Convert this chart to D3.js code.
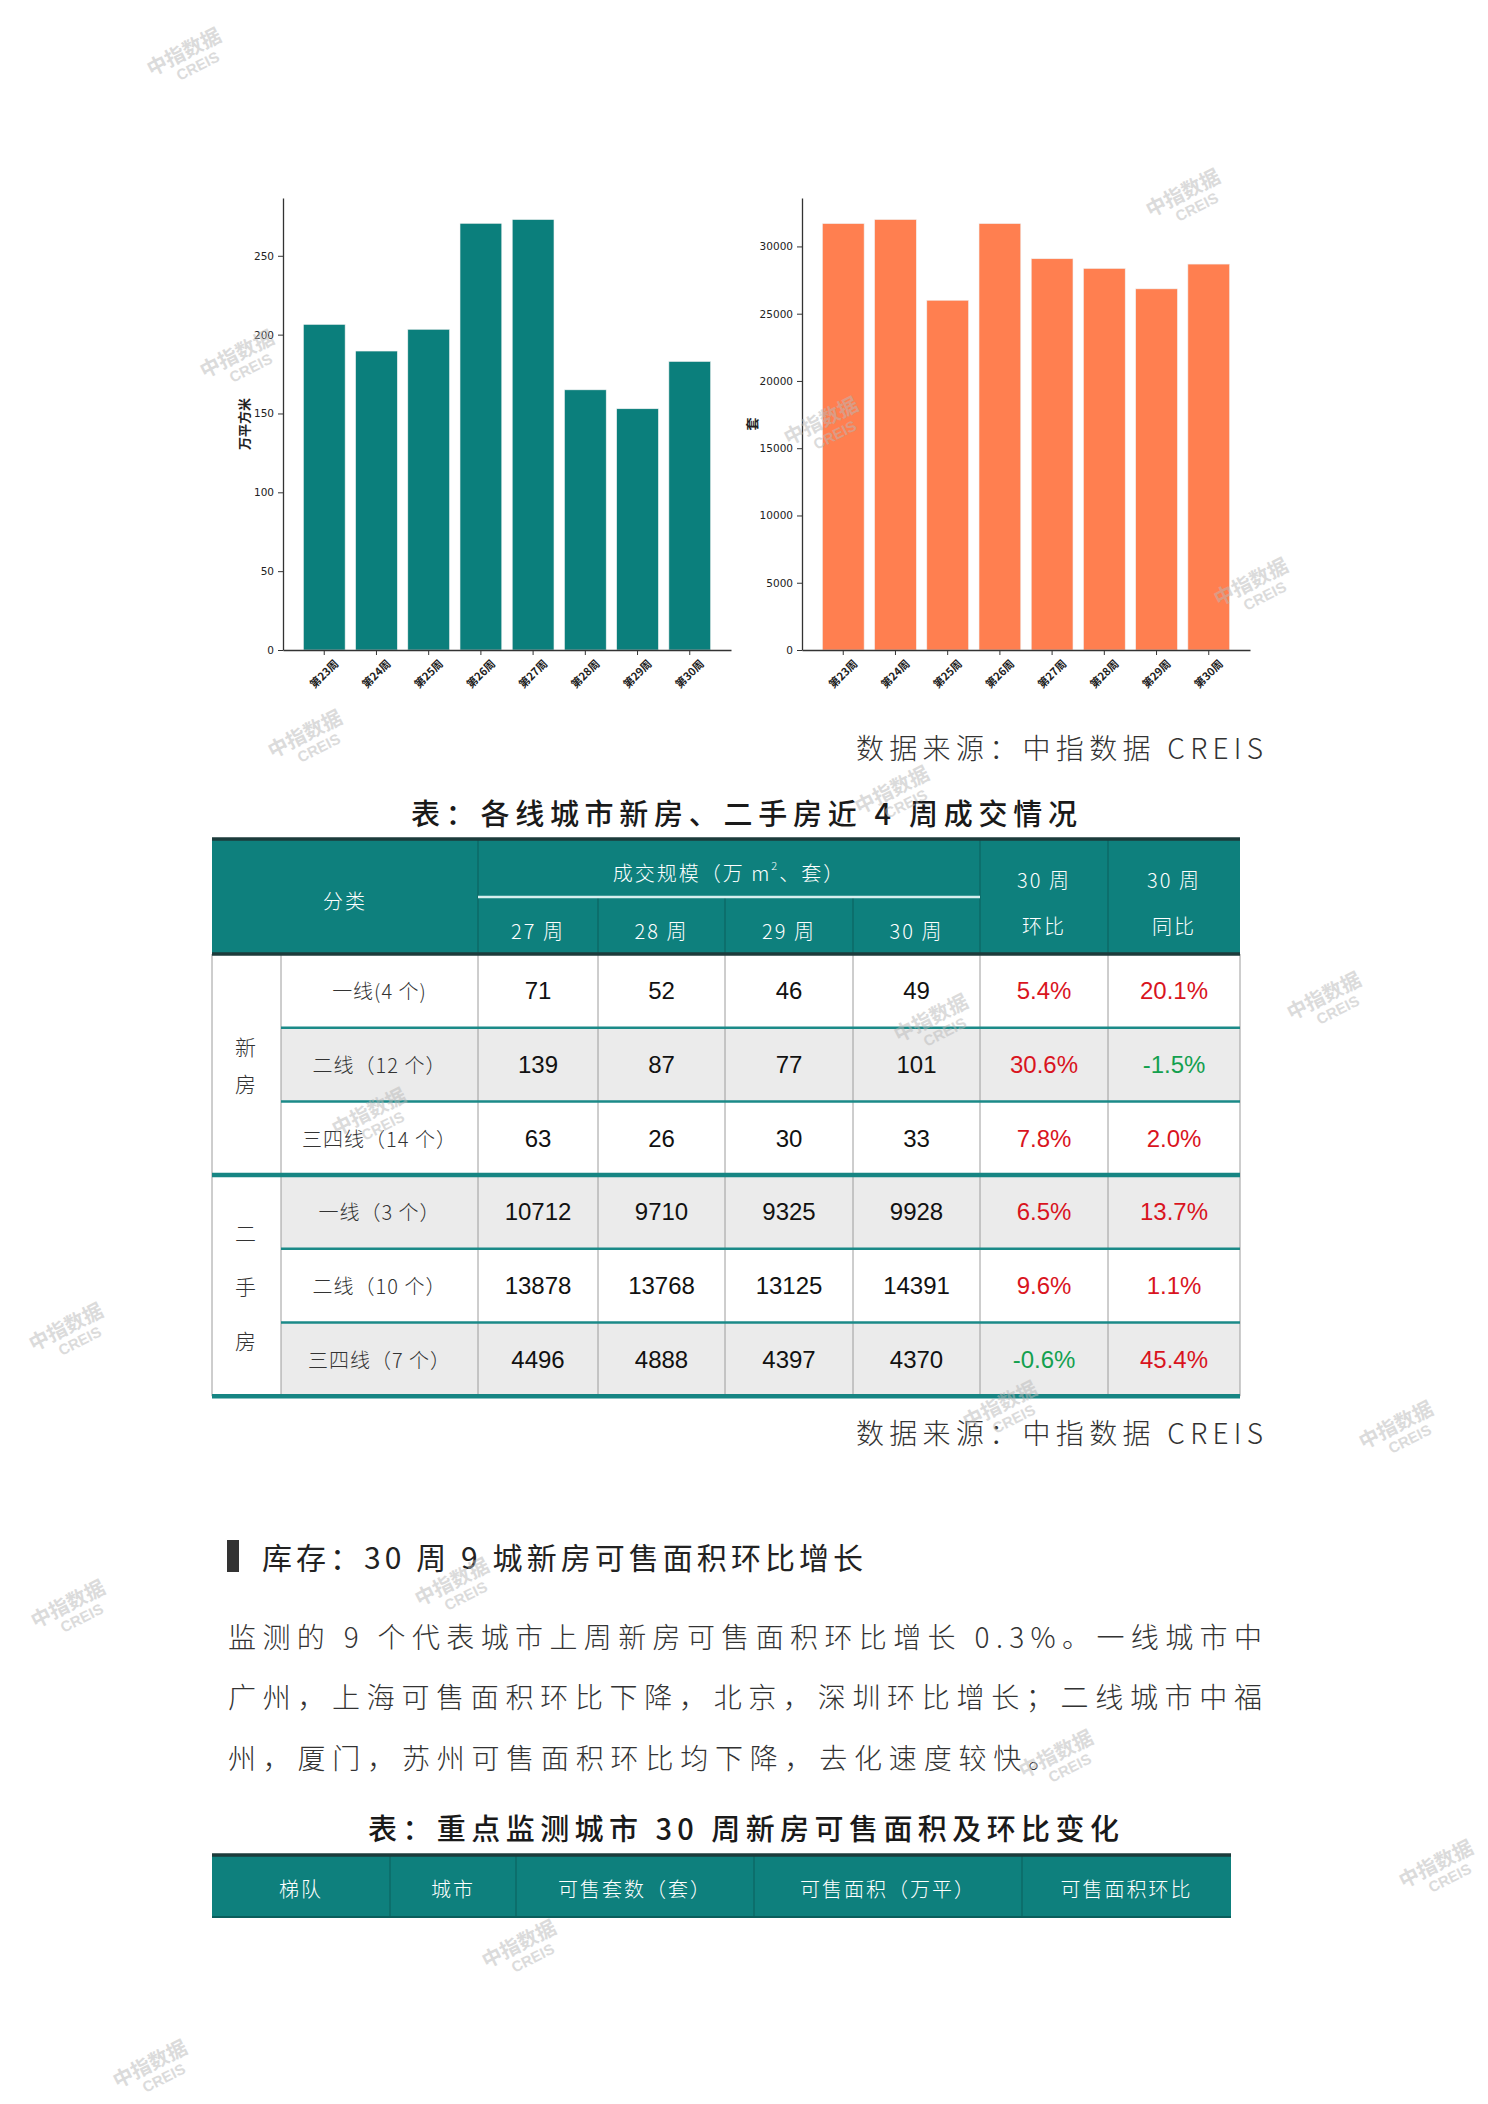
<!DOCTYPE html>
<html><head><meta charset="utf-8">
<script src="https://cdn.jsdelivr.net/npm/d3@7"></script>
<style>body{margin:0;background:#fff;} svg{display:block}</style>
</head><body>
<svg id="page" width="1488" height="2104"></svg>
<script>
// ---------------- DATA ----------------
const weeks = ["第23周","第24周","第25周","第26周","第27周","第28周","第29周","第30周"];
const newHomeArea = [206.5, 189.6, 203.4, 270.6, 273, 165, 153, 183];      // 万平方米
const resaleUnits = [31700, 32000, 26000, 31700, 29086, 28366, 26847, 28689]; // 套
const areaTicks = [0, 50, 100, 150, 200, 250];
const unitTicks = [0, 5000, 10000, 15000, 20000, 25000, 30000];

const tableWeeks = ["27 周", "28 周", "29 周", "30 周"];
const groupNames = ["新房", "二手房"];
const tierLabels = ["一线(4 个)", "二线（12 个）", "三四线（14 个）", "一线（3 个）", "二线（10 个）", "三四线（7 个）"];
const wk27 = [71, 139, 63, 10712, 13878, 4496];
const wk28 = [52, 87, 26, 9710, 13768, 4888];
const wk29 = [46, 77, 30, 9325, 13125, 4397];
const wk30 = [49, 101, 33, 9928, 14391, 4370];
const momChange = ["5.4%", "30.6%", "7.8%", "6.5%", "9.6%", "-0.6%"];
const yoyChange = ["20.1%", "-1.5%", "2.0%", "13.7%", "1.1%", "45.4%"];

const table2Headers = ["梯队", "城市", "可售套数（套）", "可售面积（万平）", "可售面积环比"];

const sourceText = "数据来源：中指数据 CREIS";
const title1 = "表：各线城市新房、二手房近 4 周成交情况";
const sectionTitle = "库存：30 周 9 城新房可售面积环比增长";
const paraLines = [
  "监测的 9 个代表城市上周新房可售面积环比增长 0.3%。一线城市中",
  "广州，上海可售面积环比下降，北京，深圳环比增长；二线城市中福",
  "州，厦门，苏州可售面积环比均下降，去化速度较快。"
];
const title2 = "表：重点监测城市 30 周新房可售面积及环比变化";

// ---------------- RENDER ----------------
const FONT = "'Noto Sans CJK SC','Noto Sans',sans-serif";
const svg = d3.select("#page");

const wmPos = [[188,60],[241,362],[309,742],[825,429],[1187,201],[1255,590],[896,798],[1328,1004],[935,1026],[373,1120],[1004,1413],[1400,1433],[72,1612],[456,1590],[1060,1762],[1440,1872],[523,1952],[70,1335],[154,2072]];
function drawWatermarks(layer){
  const g = layer.selectAll("g.wm").data(wmPos).join("g").attr("class","wm")
    .attr("transform", d => `translate(${d[0]},${d[1]}) rotate(-27)`)
    .style("opacity", 0.5);
  g.append("text").attr("text-anchor","middle").attr("y",-2)
    .attr("font-family",FONT).attr("font-size",20).attr("font-weight",700).attr("fill","#b8b8b8").text("中指数据");
  g.append("text").attr("text-anchor","middle").attr("x",6).attr("y",15)
    .attr("font-family","'Liberation Sans',Arial,sans-serif").attr("font-size",15).attr("font-weight",700).attr("fill","#b8b8b8").text("CREIS");
}

// ---- bar charts ----
function barChart(x0, x1, values, ticks, color, label, labelX){
  const g = svg.append("g");
  const x = d3.scaleBand().domain(weeks).range([x0, x1]).paddingInner(0.2).paddingOuter(0.39);
  const maxV = d3.max(values) * 1.05;
  const y = d3.scaleLinear().domain([0, maxV]).range([650, 198]);
  g.selectAll("rect").data(values).join("rect")
    .attr("x", (d,i) => x(weeks[i])).attr("width", x.bandwidth())
    .attr("y", d => y(d)).attr("height", d => y(0) - y(d))
    .attr("fill", color).attr("stroke", "#f2f2f2").attr("stroke-width", 0.6);
  const ya = g.append("g").attr("transform", `translate(${x0},0)`)
    .call(d3.axisLeft(y).tickValues(ticks).tickSize(5).tickSizeOuter(0).tickPadding(4).tickFormat(d3.format("d")));
  ya.selectAll("text").attr("font-family","'DejaVu Sans',sans-serif").attr("font-size",10.5).attr("fill","#222");
  const xa = g.append("g").attr("transform", `translate(0,650)`)
    .call(d3.axisBottom(x).tickSize(5).tickSizeOuter(0));
  xa.selectAll("text").attr("font-family",FONT).attr("font-size",11).attr("font-weight",700).attr("fill","#222")
    .attr("text-anchor","middle").attr("y",0).attr("dy","0.35em")
    .attr("transform","translate(0,24) rotate(-45)");
  [ya, xa].forEach(a => { a.select(".domain").attr("stroke","#333").attr("stroke-width",1.3); a.selectAll(".tick line").attr("stroke","#333"); });
  g.append("text").attr("transform", `translate(${labelX},424) rotate(-90)`)
    .attr("text-anchor","middle").attr("dy","0.35em")
    .attr("font-family",FONT).attr("font-size",13).attr("font-weight",700).attr("fill","#222").text(label);
}
barChart(283, 731, newHomeArea, areaTicks, "#0B7F7C", "万平方米", 244);
barChart(802, 1250, resaleUnits, unitTicks, "#FF7F50", "套", 752);

// ---- text helpers ----
function txt(x, y, s, opt){
  const t = svg.append("text").attr("x",x).attr("y",y)
    .attr("font-family", opt.family || FONT).attr("font-size", opt.size)
    .attr("font-weight", opt.weight || 400).attr("fill", opt.fill || "#222")
    .attr("text-anchor", opt.anchor || "start").attr("dominant-baseline", "central");
  if (opt.len) t.attr("textLength", opt.len).attr("lengthAdjust","spacing");
  if (opt.ls) t.attr("letter-spacing", opt.ls);
  t.text(s);
  return t;
}

txt(856, 747, sourceText, {size:28, fill:"#333", len:407, weight:300});
txt(411, 812, title1, {size:29, fill:"#1a1a1a", len:666, weight:500});

// ---- table 1 ----
const T = svg.append("g");
const cx = [212, 281, 478, 598, 725, 853, 980, 1108, 1240];
const hTop = 839, hMid = 897, hBot = 954, rowH = 73.7;
const rowY = i => hBot + i * rowH;
T.append("rect").attr("x",cx[0]).attr("y",hTop).attr("width",cx[8]-cx[0]).attr("height",hBot-hTop).attr("fill","#0E807D");
const rowIdx = d3.range(6);
T.selectAll("rect.bg").data(rowIdx).join("rect").attr("class","bg")
  .attr("x",cx[1]).attr("y",i=>rowY(i)).attr("width",cx[8]-cx[1]).attr("height",rowH)
  .attr("fill", i => i % 2 === 1 ? "#EBEBEB" : "#FFFFFF");
T.selectAll("line.v").data(cx).join("line").attr("class","v")
  .attr("x1",d=>d).attr("x2",d=>d).attr("y1",hBot).attr("y2",rowY(6))
  .attr("stroke","#9c9c9c").attr("stroke-width",1);
[[cx[2],hTop,hBot],[cx[3],hMid,hBot],[cx[4],hMid,hBot],[cx[5],hMid,hBot],[cx[6],hTop,hBot],[cx[7],hTop,hBot]].forEach(l=>{
  T.append("line").attr("x1",l[0]).attr("x2",l[0]).attr("y1",l[1]).attr("y2",l[2]).attr("stroke","#0a5e5c").attr("stroke-width",1);
});
T.append("line").attr("x1",cx[2]).attr("x2",cx[6]).attr("y1",hMid).attr("y2",hMid).attr("stroke","#d6efee").attr("stroke-width",2.5);
[1,2,4,5].forEach(i=>{
  T.append("line").attr("x1",cx[1]).attr("x2",cx[8]).attr("y1",rowY(i)).attr("y2",rowY(i)).attr("stroke","#1B8A88").attr("stroke-width",2.5);
});
[3,6].forEach(i=>{
  T.append("line").attr("x1",cx[0]).attr("x2",cx[8]).attr("y1",rowY(i)).attr("y2",rowY(i)).attr("stroke","#168583").attr("stroke-width",4.5);
});
T.append("line").attr("x1",cx[0]).attr("x2",cx[8]).attr("y1",hTop).attr("y2",hTop).attr("stroke","#1c3b3b").attr("stroke-width",3.5);
T.append("line").attr("x1",cx[0]).attr("x2",cx[8]).attr("y1",hBot).attr("y2",hBot).attr("stroke","#1c3b3b").attr("stroke-width",3.5);

const hw = {size:20, fill:"#fff", anchor:"middle", ls:2, weight:300};
txt((cx[0]+cx[2])/2, 900, "分类", hw);
const hdr = txt((cx[2]+cx[6])/2, 872, "", hw);
hdr.append("tspan").text("成交规模（万 m");
hdr.append("tspan").attr("font-size",11).attr("dy",-7).text("2");
hdr.append("tspan").attr("dy",7).text("、套）");
tableWeeks.forEach((w,j)=> txt((cx[2+j]+cx[3+j])/2, 930, w, hw));
txt((cx[6]+cx[7])/2, 879, "30 周", hw);
txt((cx[6]+cx[7])/2, 925, "环比", hw);
txt((cx[7]+cx[8])/2, 879, "30 周", hw);
txt((cx[7]+cx[8])/2, 925, "同比", hw);

const NUM = "'Liberation Sans',Arial,sans-serif";
[["新","房"],["二","手","房"]].forEach((chars,gi)=>{
  const yC = (rowY(gi*3) + rowY(gi*3+3)) / 2;
  const gap = chars.length === 2 ? 37 : 54;
  chars.forEach((c,k)=> txt(245.5, yC + (k - (chars.length-1)/2)*gap, c, {size:21, fill:"#333", anchor:"middle", weight:300}));
});
rowIdx.forEach(i=>{
  const yC = rowY(i) + rowH/2;
  txt((cx[1]+cx[2])/2, yC, tierLabels[i], {size:20, fill:"#333", anchor:"middle", weight:300, ls:1});
  [wk27, wk28, wk29, wk30].forEach((arr,j)=> txt((cx[2+j]+cx[3+j])/2, yC, String(arr[i]), {size:24, fill:"#111", anchor:"middle", family:NUM}));
  [momChange, yoyChange].forEach((arr,j)=> txt((cx[6+j]+cx[7+j])/2, yC, arr[i],
      {size:24, fill: parseFloat(arr[i]) < 0 ? "#13A04F" : "#D9141E", anchor:"middle", family:NUM}));
});

txt(856, 1432, sourceText, {size:28, fill:"#333", len:407, weight:300});

svg.append("rect").attr("x",227).attr("y",1540).attr("width",12).attr("height",32).attr("fill","#333");
txt(262, 1556, sectionTitle, {size:30, fill:"#222", len:601});
const paraY = [1636, 1696, 1757];
paraLines.forEach((l,i)=>{
  const opt = {size:28, fill:"#333", weight:300};
  opt.len = i < 2 ? 1034 : 828;
  txt(228, paraY[i], l, opt);
});

txt(368, 1827, title2, {size:29, fill:"#1a1a1a", len:751, weight:500});

const cx2 = [212, 390, 516, 754, 1022, 1231];
const t2Top = 1855, t2Bot = 1917;
svg.append("rect").attr("x",cx2[0]).attr("y",t2Top).attr("width",cx2[5]-cx2[0]).attr("height",t2Bot-t2Top).attr("fill","#0E807D");
cx2.slice(1,5).forEach(x=> svg.append("line").attr("x1",x).attr("x2",x).attr("y1",t2Top).attr("y2",t2Bot).attr("stroke","#0a5e5c").attr("stroke-width",1));
svg.append("line").attr("x1",cx2[0]).attr("x2",cx2[5]).attr("y1",t2Top).attr("y2",t2Top).attr("stroke","#1c3b3b").attr("stroke-width",3.5);
svg.append("line").attr("x1",cx2[0]).attr("x2",cx2[5]).attr("y1",t2Bot).attr("y2",t2Bot).attr("stroke","#0a5e5c").attr("stroke-width",2);
table2Headers.forEach((h,j)=> txt((cx2[j]+cx2[j+1])/2, 1888, h, {size:20, fill:"#fff", anchor:"middle", ls:2, weight:300}));

drawWatermarks(svg.append("g"));
</script>
</body></html>
